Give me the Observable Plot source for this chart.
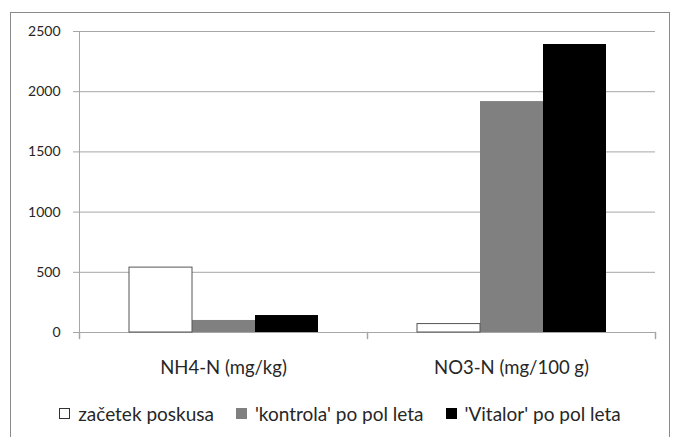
<!DOCTYPE html>
<html>
<head>
<meta charset="utf-8">
<script src="https://cdn.jsdelivr.net/npm/d3@7"></script>
<script src="https://cdn.jsdelivr.net/npm/@observablehq/plot@0.6"></script>
<style>
  body { margin: 0; background: #fff; font-family: Lato, "Open Sans", sans-serif; }
  #wrap { position: relative; width: 674px; height: 437px; overflow: hidden; }
  #border { position: absolute; left: 10px; top: 12px; width: 660px; height: 440px; border: 1px solid #8a8a8a; box-sizing: border-box; }
  #chart { position: absolute; left: 0; top: 0; }
  #legend { position: absolute; left: 0; top: 400px; width: 674px; height: 26px; display: flex; justify-content: center; align-items: center; font-size: 19px; color: #262626; padding-left: 6px; box-sizing: border-box; }
  .item { display: flex; align-items: center; margin: 0 11px; }
  .sw { width: 11px; height: 11px; box-sizing: border-box; margin-right: 8px; }
</style>
</head>
<body>
<div id="wrap">
  <div id="border"></div>
  <div id="chart"></div>
  <div id="legend"></div>
</div>
<script>
const categories = ["NH4-N (mg/kg)", "NO3-N (mg/100 g)"];
const series = ["začetek poskusa", "'kontrola' po pol leta", "'Vitalor' po pol leta"];
const zacetek = [539, 70];
const kontrola = [100, 1918];
const vitalor = [141, 2392];
const yTicks = [0, 500, 1000, 1500, 2000, 2500];
const colors = ["#ffffff", "#808080", "#000000"];
const swatchBorders = ["#333333", "#808080", "#000000"];

const valuesBySeries = [zacetek, kontrola, vitalor];
const rows = [];
categories.forEach((c, i) => series.forEach((s, j) => rows.push({category: c, series: s, value: valuesBySeries[j][i]})));

const axisGray = "#a6a6a6";
const tickShape = {draw(context, l) { context.moveTo(0, 0); context.lineTo(0, -l); }};

const chart = Plot.plot({
  width: 674,
  height: 385,
  marginLeft: 78,
  marginRight: 19,
  marginTop: 31,
  marginBottom: 53,
  style: {fontFamily: "Lato, 'Open Sans', sans-serif", color: "#262626", background: "transparent"},
  fx: {domain: categories, padding: 0, label: null},
  x: {domain: series, paddingInner: 0, paddingOuter: 0.754, axis: null},
  y: {domain: [0, 2500], axis: null},
  color: {domain: series, range: colors},
  marks: [
    Plot.gridY(yTicks, {stroke: axisGray, strokeOpacity: 1}),
    Plot.ruleY([0], {stroke: axisGray}),
    Plot.frame({anchor: "left", fx: categories[0], stroke: axisGray}),
    Plot.vector(categories, {fx: d => d, frameAnchor: "bottom-left", length: 6, rotate: 180, anchor: "start", shape: tickShape, stroke: axisGray}),
    Plot.vector(categories.slice(-1), {fx: d => d, frameAnchor: "bottom-right", length: 6, rotate: 180, anchor: "start", shape: tickShape, stroke: axisGray}),
    Plot.barY(rows.filter(d => d.series !== series[0]), {fx: "category", x: "series", y: "value", fill: "series"}),
    Plot.barY(rows.filter(d => d.series === series[0]), {fx: "category", x: "series", y: "value", fill: "series", stroke: "#555", strokeWidth: 1}),
    Plot.axisY(yTicks, {tickSize: 6, tickPadding: 13, fontSize: 14, stroke: axisGray, tickFormat: d => String(d), label: null}),
    Plot.axisFx({anchor: "bottom", tickSize: 0, tickPadding: 28, fontSize: 18.5, label: null})
  ]
});
document.getElementById("chart").appendChild(chart);

const legend = document.getElementById("legend");
series.forEach((s, i) => {
  const item = document.createElement("div");
  item.className = "item";
  const sw = document.createElement("span");
  sw.className = "sw";
  sw.style.background = colors[i];
  sw.style.border = "1px solid " + swatchBorders[i];
  const t = document.createElement("span");
  t.textContent = s;
  item.appendChild(sw);
  item.appendChild(t);
  legend.appendChild(item);
});
</script>
</body>
</html>
